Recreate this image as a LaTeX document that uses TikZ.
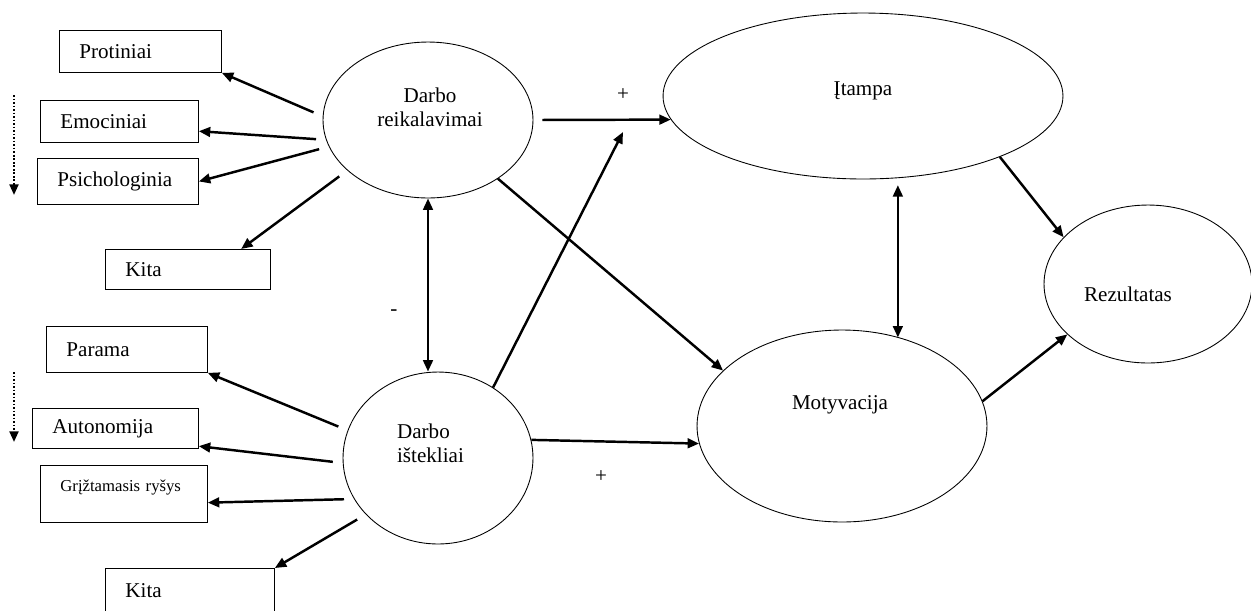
\documentclass[tikz,border=0pt]{standalone}
\usepackage{fontspec}
\setmainfont{Liberation Serif}
\usetikzlibrary{arrows.meta,shapes.geometric,calc}
\tikzset{
  box/.style={draw,line width=0.5pt,anchor=north west,inner xsep=0.4cm,inner ysep=0pt,align=left,font=\fontsize{12}{13.6}\selectfont},
  oval/.style={draw,ellipse,line width=0.5pt,inner sep=0pt},
  lbl/.style={font=\fontsize{12}{13.6}\selectfont,inner sep=0pt},
  arr/.style={line width=1.4pt,-{Triangle[length=6.5pt,width=5.5pt]}},
  dbl/.style={line width=1.4pt,{Triangle[length=6.5pt,width=5.5pt]}-{Triangle[length=6.5pt,width=5.5pt]}},
  fan/.style={arr,shorten <=0.2cm},
  hint/.style={line width=1.3pt,dash pattern=on 1pt off 1pt,-{Triangle[length=6pt,width=5pt]}}
}
\begin{document}
\begin{tikzpicture}[x=0.02cm,y=-0.02cm]
  \useasboundingbox (0,0) rectangle (1251,610);

  % -- the five factors --
  \node[oval,minimum width=4.2cm,minimum height=3.12cm] (dr) at (428,120) {};
  \node[oval,minimum width=3.8cm,minimum height=3.44cm] (di) at (438,458) {};
  \node[oval,minimum width=8cm,minimum height=3.32cm] (it) at (863,96) {};
  \node[oval,minimum width=5.8cm,minimum height=3.84cm] (mot) at (842,426) {};
  \node[oval,minimum width=4.16cm,minimum height=3.16cm] (rez) at (1148,284) {};

  % -- their texts --
  \node[lbl,align=center] (drtxt) at ($(dr)+(2,-13)$) {Darbo\\reikalavimai};
  \node[lbl,align=left] (ditxt) at ($(di)+(-7.5,-14.5)$) {Darbo\\ištekliai};
  \node[lbl] (ittxt) at ($(it)+(0,-5)$) {Įtampa};
  \node[lbl] (mottxt) at ($(mot)+(-2,-21)$) {Motyvacija};
  \node[lbl] (reztxt) at ($(rez)+(-20,10)$) {Rezultatas};

  % -- demands (top left) --
  \node[box,text width=2.44cm,minimum height=0.84cm] (prot) at (59,30) {Protiniai};
  \node[box,text width=2.36cm,minimum height=0.84cm] (emo) at (40,100) {Emociniai};
  \node[box,text width=2.42cm,minimum height=0.92cm] (psi) at (37,158) {Psichologinia};
  \node[box,text width=2.5cm,minimum height=0.8cm] (kita1) at (105,249) {Kita};

  % -- resources (bottom left) --
  \node[box,text width=2.42cm,minimum height=0.92cm] (par) at (46,326) {Parama};
  \node[box,text width=2.52cm,minimum height=0.8cm] (aut) at (32,408) {Autonomija};
  \node[box,text width=2.54cm,font=\fontsize{9.5}{11}\selectfont,
        text height=7pt,text depth=9.5pt,inner ysep=7.9pt] (grt) at (40,465) {Grįžtamasis ryšys};
  \node[box,text width=2.58cm,minimum height=0.88cm] (kita2) at (105,568) {Kita};

  % -- signs --
  \node[lbl] (plusa) at (623,95) {+};
  \node[lbl] (plusb) at (601,477) {+};
  \node[lbl] (minus) at (394,313) {-};

  % -- free ends --
  \coordinate (itin) at (623,132);
  \coordinate (hinta) at (14,95);
  \coordinate (hintb) at (14,195);
  \coordinate (hintc) at (14,372);
  \coordinate (hintd) at (14,442);

  % -- fans to the boxes --
  \draw[fan] (dr.178) -- (prot.south east);
  \draw[fan] (dr.191) -- (emo.-7);
  \draw[fan] (dr.195) -- (psi.east);
  \draw[fan] (dr.212) -- (kita1.21);
  \draw[fan] (di.163) -- (par.south east);
  \draw[fan] (di.183) -- (aut.-12);
  \draw[fan] (di.206) -- (grt.-6);
  \draw[fan] (di.218) -- (kita2.north east);

  % -- links between factors --
  \draw[arr,shorten <=0.18cm] (dr.east) -- (it.187);
  \draw[arr] (di.52) -- (itin);
  \draw[arr] (dr.-40.5) -- (mot.155.6);
  \draw[arr] (di.11) -- (mot.187);
  \draw[dbl] (dr.south) -- (dr.south |- di.north);
  \draw[dbl,shorten <=0.14cm] (it.-67) -- (it.-67 |- mot.57.5);
  \draw[arr] (it.-24) -- (rez.151);
  \draw[arr] (mot.10) -- (rez.212);

  % -- dotted hints on the left --
  \draw[hint] (hinta) -- (hintb);
  \draw[hint] (hintc) -- (hintd);
\end{tikzpicture}
\end{document}
